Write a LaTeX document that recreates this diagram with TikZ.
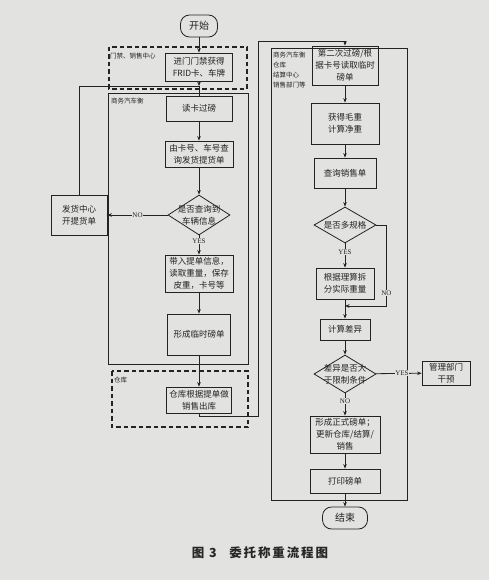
\documentclass[tikz,border=0pt]{standalone}
\usepackage{fontspec}
\setmainfont{Liberation Serif}
\newfontfamily\cjk{Noto Sans CJK SC}
\newfontfamily\capfont[LetterSpace=15]{Noto Sans CJK SC}
\usetikzlibrary{positioning,arrows.meta,shapes.geometric}
\definecolor{paper}{RGB}{226,226,224}
\definecolor{ink}{RGB}{35,35,35}

\begin{document}
\begin{tikzpicture}[
  x=1pt, y=-1pt,
  >={Stealth[length=4.5pt,width=3.6pt]},
  box/.style={draw=ink, line width=0.8pt, align=center, inner sep=1pt, text=ink, font=\cjk\fontsize{8.5}{12}\selectfont},
  term/.style={box, rounded corners=9pt, font=\cjk\fontsize{10}{12}\selectfont},
  decision/.style={diamond, draw=ink, line width=0.8pt, inner sep=0pt},
  dtxt/.style={align=center, inner sep=0pt, text=ink, font=\cjk\fontsize{8.5}{12}\selectfont},
  lane/.style={draw=ink, line width=1pt},
  zone/.style={draw=ink, line width=1.3pt, dash pattern=on 4.5pt off 3pt},
  lanetxt/.style={inner sep=0pt, align=left, text=ink, font=\cjk\fontsize{6.5}{10}\selectfont},
  flow/.style={->, draw=ink, line width=0.8pt},
  line/.style={draw=ink, line width=0.8pt},
  tag/.style={fill=paper, inner sep=0.6pt, text=ink, font=\fontsize{7}{8}\selectfont},
]
  % Paper
  \fill[paper] (0,0) rectangle (489,580);
  \useasboundingbox (0,0) rectangle (489,580);

  % Swim lanes and zones
  \draw[zone] (109,47) rectangle (247,89);
  \node[lanetxt, anchor=west] (lbgate) at (110,56) {门禁、销售中心};
  \draw[lane] (108,94) rectangle (248,364);
  \node[lanetxt, anchor=west] (lbscale) at (111,101) {商务汽车衡};
  \draw[zone] (112,371) rectangle (248,427);
  \node[lanetxt, anchor=west] (lbstore) at (114,380) {仓库};
  \draw[lane] (271,49) rectangle (407,500);
  \node[lanetxt, anchor=north west] (lbright) at (273,52) {商务汽车衡\\仓库\\结算中心\\销售部门等};

  % Left column
  \node[term, minimum width=37, minimum height=22] (start) at (199,26) {开始};
  \node[box, minimum width=67, minimum height=28] (gate) at (199,67) {进门门禁获得\\FRID卡、车牌};
  \coordinate (merge) at (199,86);
  \node[box, minimum width=66, minimum height=25] (read) at (199,108.5) {读卡过磅};
  \node[box, minimum width=68, minimum height=26] (query) at (199,154) {由卡号、车号查\\询发货提货单};
  \node[decision, minimum width=62, minimum height=40, label={[dtxt]center:{是否查询到\\车辆信息}}] (found) at (199,215) {};
  \node[box, minimum width=56, minimum height=40] (issue) at (79,215) {发货中心\\开提货单};
  \node[box, minimum width=68, minimum height=37] (load) at (199,273.5) {带入提单信息，\\读取重量，保存\\皮重，卡号等};
  \node[box, minimum width=63, minimum height=41] (temp) at (199,334.5) {形成临时磅单};
  \node[box, minimum width=65, minimum height=26] (out) at (199,400) {仓库根据提单做\\销售出库};

  % Right column
  \node[box, minimum width=66, minimum height=39] (second) at (345,65.5) {第二次过磅/根\\据卡号读取临时\\磅单};
  \node[box, minimum width=68, minimum height=41] (gross) at (345,123.5) {获得毛重\\计算净重};
  \node[box, minimum width=62, minimum height=30] (sales) at (345,173) {查询销售单};
  \node[decision, minimum width=62, minimum height=36, label={[dtxt]center:{是否多规格}}] (multi) at (345,225) {};
  \node[box, minimum width=58, minimum height=31] (split) at (345,283.5) {根据理算拆\\分实际重量};
  \coordinate (join) at (345,306);
  \node[box, minimum width=50, minimum height=21] (diff) at (345,329.5) {计算差异};
  \node[decision, minimum width=62, minimum height=38, label={[dtxt]center:{差异是否大\\于限制条件}}] (limit) at (345,374) {};
  \node[box, minimum width=48, minimum height=24] (mgmt) at (446,373) {管理部门\\干预};
  \node[box, minimum width=70, minimum height=37] (formal) at (345,434.5) {形成正式磅单；\\更新仓库/结算/\\销售};
  \node[box, minimum width=70, minimum height=24] (print) at (345,481) {打印磅单};
  \node[term, minimum width=45, minimum height=22] (finish) at (345,518) {结束};

  % Connectors, left
  \draw[flow] (start) -- (gate);
  \draw[flow] (gate) -- (merge);
  \draw[line] (merge) -- (read);
  \draw[flow] (read) -- (query);
  \draw[flow] (query) -- (found);
  \draw[flow] (found) -- (load) node[tag, pos=0.3] {YES};
  \draw[flow] (found) -- (issue) node[tag, midway] {NO};
  \draw[line] (issue.north) |- (merge);
  \fill[ink] (108,215) circle (1.5pt);
  \draw[flow] (load) -- (temp);
  \draw[flow] (temp) -- (out);

  % Cross-over to the second weighing
  \coordinate (riseA) at (258,416);
  \coordinate (riseB) at (258,41);
  \draw[flow] (out.south) |- (riseA) -- (riseB) -| (second.north);

  % Connectors, right
  \draw[flow] (second) -- (gross);
  \draw[flow] (gross) -- (sales);
  \draw[flow] (sales) -- (multi);
  \draw[flow] (multi) -- (split) node[tag, pos=0.35] {YES};
  \draw[flow] (multi.east) -- ++(10,0) |- (join) node[tag, pos=0.42] {NO};
  \draw[flow] (split) -- (diff);
  \draw[flow] (diff) -- (limit);
  \draw[flow] (limit) -- (mgmt) node[tag, pos=0.57] {YES};
  \draw[flow] (limit) -- (formal) node[tag, pos=0.35] {NO};
  \draw[flow] (formal) -- (print);
  \draw[flow] (print) -- (finish);

  % Caption
  \node[font=\capfont\bfseries\fontsize{12.5}{14}\selectfont, text=black!85] (caption) at (260,553) {图 3\quad 委托称重流程图};

\end{tikzpicture}
\end{document}
